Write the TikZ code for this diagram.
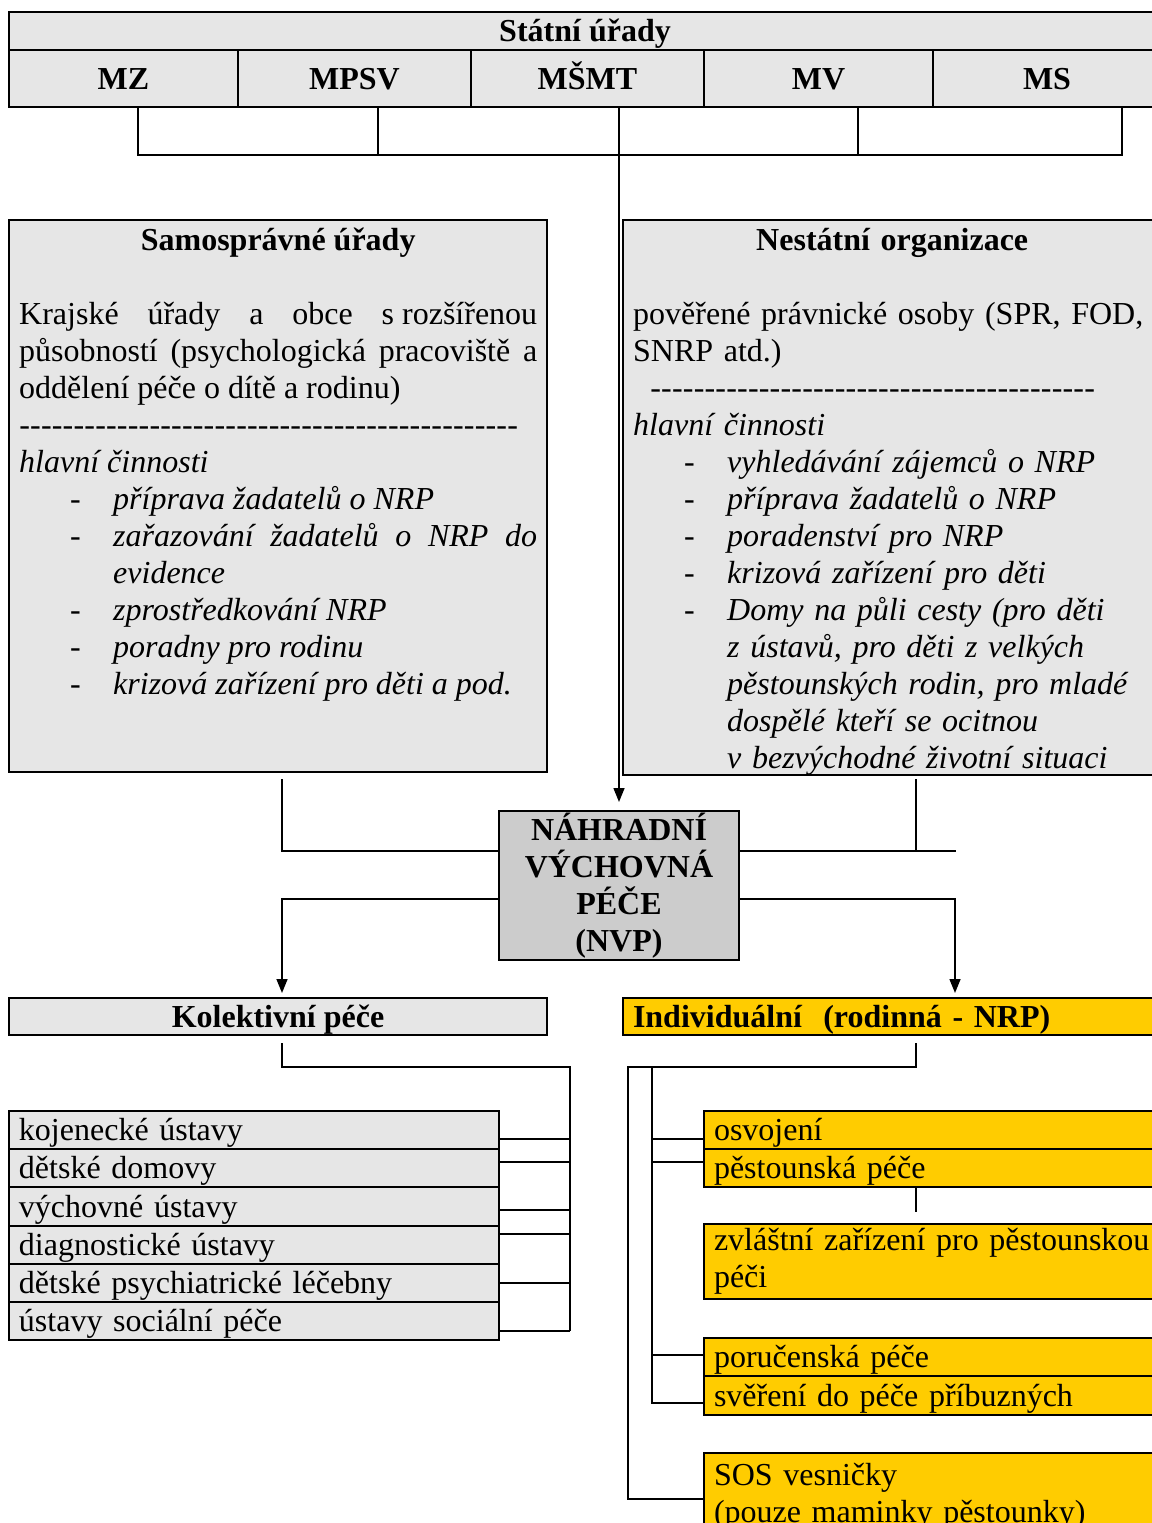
\documentclass[tikz,border=0pt]{standalone}
\usepackage{fontspec}
\setmainfont{Liberation Serif}
\usetikzlibrary{arrows.meta}
\definecolor{svetlesede}{HTML}{E6E6E6}
\definecolor{sede}{HTML}{CCCCCC}
\definecolor{zluta}{HTML}{FFCC00}
\newcommand{\pismo}{\fontsize{32}{37}\selectfont}
\newcommand{\bod}[1]{\par\hangindent=94pt\hangafter=0\noindent\llap{\makebox[43pt][l]{-}}\textit{#1}}
\newcommand{\carky}[1]{\makebox[#1][l]{\xleaders\hbox{-}\hfill}}
\begin{document}
\begin{tikzpicture}[x=1pt,y=-1pt,>={Triangle[length=14pt,width=11pt]},font=\pismo,
    ramecek/.style={draw,line width=2pt,anchor=north west,inner sep=0pt,outer sep=0pt},
    radek/.style={ramecek,inner xsep=10pt,text height=26pt,text depth=5pt,align=left},
    tucne/.style={font=\pismo\bfseries,text height=26pt,text depth=5pt},
    spoj/.style={line width=1.5pt}]
\useasboundingbox (0,0) rectangle (1151,1523);

\node[ramecek,tucne,fill=svetlesede,minimum width=1152pt,minimum height=38pt](statni) at (9,12) {Státní úřady};
\foreach \zkr/\xa/\xb [count=\i] in {MZ/9/238,MPSV/238/471,MŠMT/471/704,MV/704/933,MS/933/1161}
{
    \node[ramecek,tucne,fill=svetlesede,minimum width={\xb-\xa},minimum height=57pt](min\i) at (\xa,50) {\zkr};
}

\node[ramecek,fill=svetlesede,minimum width=538pt,minimum height=552pt](samo) at (9,220) {};
\node[anchor=north west,inner sep=0pt,text width=518pt,align=justify](samotext) at (19,225)
{{\centering\bfseries\rule{0pt}{25pt}Samosprávné úřady\par}
\vspace{37pt}
Krajské úřady a obce s\kern.25em rozšířenou\linebreak působností (psychologická pracoviště a\linebreak oddělení péče o dítě a rodinu)\par
\noindent\carky{499pt}\par
\noindent\textit{hlavní činnosti}
\bod{příprava žadatelů o NRP}
\bod{zařazování žadatelů o NRP do\linebreak evidence}
\bod{zprostředkování NRP}
\bod{poradny pro rodinu}
\bod{krizová zařízení pro děti a pod.}\par};

\node[ramecek,fill=svetlesede,minimum width=538pt,minimum height=555pt](nesta) at (623,220) {};
\node[anchor=north west,inner sep=0pt,text width=518pt,align=left](nestatext) at (633,225)
{{\centering\bfseries\rule{0pt}{25pt}Nestátní organizace\par}
\vspace{37pt}
pověřené právnické osoby (SPR, FOD,\newline SNRP atd.)\par
\noindent\hspace*{17pt}\carky{445pt}\par
\noindent\textit{hlavní činnosti}
\bod{vyhledávání zájemců o NRP}
\bod{příprava žadatelů o NRP}
\bod{poradenství pro NRP}
\bod{krizová zařízení pro děti}
\bod{Domy na půli cesty (pro děti\newline z ústavů, pro děti z velkých\newline pěstounských rodin, pro mladé\newline dospělé kteří se ocitnou\newline v bezvýchodné životní situaci}\par};

\node[draw,line width=2pt,fill=sede,minimum width=240pt,minimum height=149pt,inner sep=0pt,align=center,font=\pismo\bfseries](nvp) at (619,885.5) {NÁHRADNÍ\\VÝCHOVNÁ\\PÉČE\\(NVP)};

\node[ramecek,tucne,fill=svetlesede,minimum width=538pt,minimum height=37pt](kolekt) at (9,998) {Kolektivní péče};
\node[radek,tucne,fill=zluta,text width=518pt,minimum height=37pt](indiv) at (623,998) {Individuální~~(rodinná - NRP)};

\foreach \t [count=\i] in {kojenecké ústavy,dětské domovy,výchovné ústavy,diagnostické ústavy,dětské psychiatrické léčebny,ústavy sociální péče}
{
    \node[radek,fill=svetlesede,text width=470pt,minimum height=38.2pt](ust\i) at (9,{1111+38.2*(\i-1)}) {\t};
}

\node[radek,fill=zluta,text width=437pt,minimum height=38pt](osv) at (704,1111) {osvojení};
\node[radek,fill=zluta,text width=437pt,minimum height=38pt](pest) at (704,1149) {pěstounská péče};
\node[ramecek,fill=zluta,inner xsep=10pt,text width=437pt,align=left,minimum height=75pt](zvl) at (704,1224) {zvláštní zařízení pro pěstounskou\\péči};
\node[radek,fill=zluta,text width=437pt,minimum height=38pt](poruc) at (704,1338) {poručenská péče};
\node[radek,fill=zluta,text width=437pt,minimum height=39pt](sver) at (704,1376) {svěření do péče příbuzných};
\node[ramecek,fill=zluta,inner xsep=10pt,text width=437pt,align=left,minimum height=87pt](sos) at (704,1453) {SOS vesničky\\(pouze maminky pěstounky)};

\coordinate (sb) at (1122,155);
\coordinate (np) at ([yshift=34.5pt]nvp.east);
\coordinate (kh) at (570,1067);
\coordinate (vn) at (628,1067);
\coordinate (vi) at (652,1067);

\draw[spoj]([xshift=14.5pt]min1.south) |- (sb) -- ([xshift=75pt]min5.south);
\foreach \i/\dx in {2/23.5,4/39.5}
{
    \draw[spoj]([xshift=\dx pt]min\i.south) -- ([xshift=\dx pt]min\i.south |- sb);
}
\draw[spoj,->,shorten >=8pt](min3.south -| nvp.north) -- (nvp.north);

\draw[spoj]([xshift=4pt,yshift=-7pt]samo.south) |- ([yshift=34.5pt]nvp.west);
\draw[spoj](np) -- ++(216,0);
\draw[spoj]([xshift=24pt,yshift=-4pt]nesta.south) -- ([xshift=24pt]nesta.south |- np);

\draw[spoj,->,shorten >=5pt]([yshift=-13.5pt]nvp.west) -| ([xshift=4pt]kolekt.north);
\draw[spoj,->,shorten >=5pt]([yshift=-13.5pt]nvp.east) -| ([xshift=63pt]indiv.north);

\draw[spoj]([xshift=4pt,yshift=-8pt]kolekt.south) |- (kh) -- (kh |- 0,1331);
\foreach \i/\y in {1/1139,2/1162,3/1210,4/1234,5/1283,6/1331}
{
    \draw[spoj](ust\i.east |- 0,\y) -- (kh |- 0,\y);
}

\draw[spoj]([xshift=24pt,yshift=-8pt]indiv.south) |- (vn) |- (sos.west |- 0,1499);
\draw[spoj](vi) |- (sver.west |- 0,1403);
\foreach \uzel/\y in {osv/1139,pest/1162,poruc/1355}
{
    \draw[spoj](vi |- 0,\y) -- (\uzel.west |- 0,\y);
}
\draw[spoj]([xshift=-16.5pt]pest.south) -- ++(0,25);
\end{tikzpicture}
\end{document}
